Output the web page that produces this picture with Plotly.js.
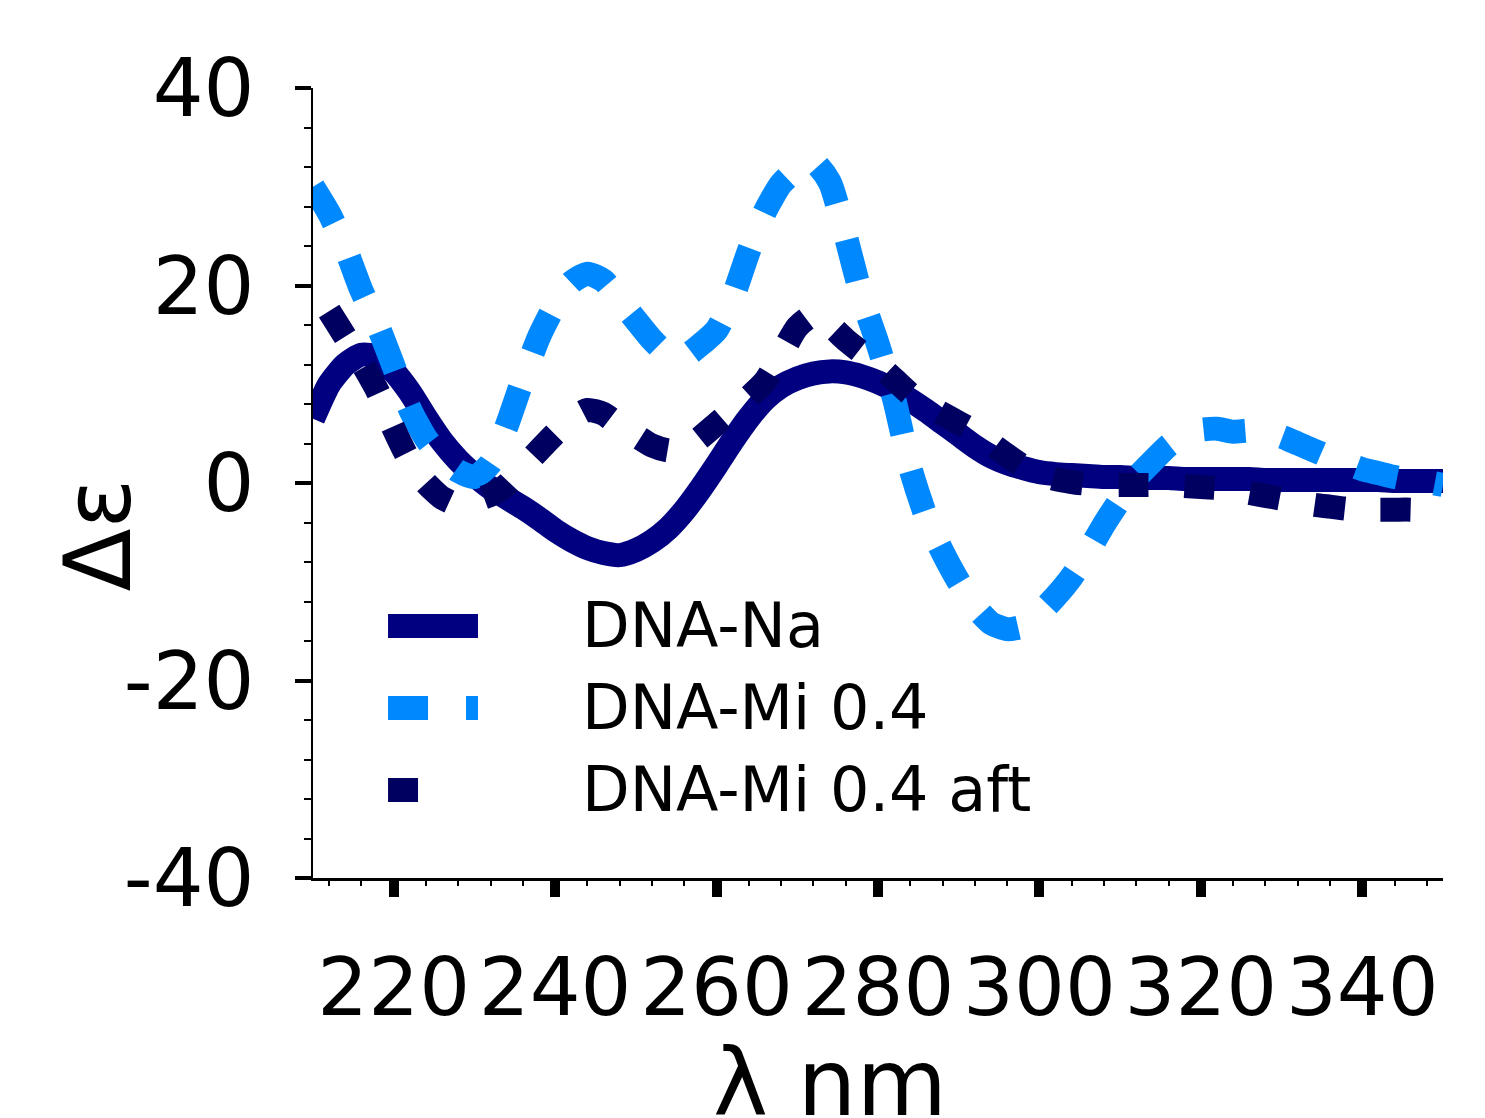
<!DOCTYPE html>
<html>
<head>
<meta charset="utf-8">
<script src="https://cdn.plot.ly/plotly-3.0.1.min.js"></script>
<style>
  html, body { margin: 0; padding: 0; background: #ffffff; }
  #chart { width: 1485px; height: 1118px; }
</style>
</head>
<body>
<div id="chart"></div>
<script>
// Wavelength (nm)
const wavelength = [210,212,214,216,218,220,222,224,226,228,230,232,234,236,238,240,242,244,246,248,
  250,252,254,256,258,260,262,264,266,268,270,272,274,276,278,280,282,284,286,288,
  290,292,294,296,298,300,302,304,306,308,310,312,314,316,318,320,322,324,326,328,
  330,332,334,336,338,340,342,344,346,348,350];

// DNA-Na
const dnaNa = [6.5,10.0,12.0,13.0,12.8,11.3,9.2,6.6,4.2,2.3,0.8,-0.5,-1.5,-2.5,-3.6,-4.8,-5.8,-6.6,-7.1,-7.3,
  -6.8,-5.9,-4.6,-2.8,-0.6,1.8,4.3,6.6,8.5,9.8,10.6,11.1,11.3,11.2,10.8,10.2,9.4,8.4,7.3,6.1,
  4.9,3.7,2.7,2.0,1.5,1.1,0.9,0.8,0.7,0.6,0.6,0.5,0.5,0.5,0.4,0.4,0.4,0.4,0.4,0.3,
  0.3,0.3,0.3,0.3,0.3,0.3,0.3,0.2,0.2,0.2,0.2];

// DNA-Mi 0.4
const dnaMi = [30.0,27.3,23.8,19.5,16.0,11.8,7.5,4.5,2.5,1.2,0.6,2.0,5.8,10.5,14.8,18.0,20.3,21.2,20.5,18.5,
  16.5,14.5,13.0,12.8,14.0,15.5,18.8,23.5,27.5,30.3,31.8,32.5,30.5,25.0,18.8,14.0,8.5,1.5,-3.5,-7.0,
  -10.0,-12.5,-14.2,-14.8,-14.5,-13.2,-11.5,-9.5,-7.0,-4.2,-1.7,0.5,2.2,3.8,4.9,5.4,5.5,5.2,5.3,5.1,
  4.7,4.0,3.3,2.6,2.0,1.4,1.0,0.6,0.3,0.1,-0.2];

// DNA-Mi 0.4 aft
const dnaMiAft = [null,17.4,14.8,12.2,9.3,5.5,2.2,0.0,-1.5,-2.2,-1.8,-1.2,-0.2,1.6,3.3,5.0,6.5,7.4,7.0,5.8,
  4.8,3.8,3.3,3.4,4.6,6.0,7.4,8.7,10.3,13.0,15.8,17.0,16.0,14.5,13.2,12.0,10.5,9.0,7.9,7.0,
  6.1,5.2,4.0,2.8,1.7,0.9,0.4,0.1,-0.1,-0.2,-0.2,-0.2,-0.2,-0.2,-0.3,-0.4,-0.5,-0.7,-1.0,-1.3,
  -1.6,-1.9,-2.2,-2.4,-2.6,-2.7,-2.7,-2.7,-2.7,-2.8,-2.8];

const seriesNames = ['DNA-Na', 'DNA-Mi 0.4', 'DNA-Mi 0.4 aft'];
const xTickVals = [220,240,260,280,300,320,340];
const yTickVals = [-40,-20,0,20,40];

const FONT = 'DejaVu Sans, Arial, sans-serif';

const styles = [
  { color: '#000080', dash: 'solid', legendDash: 'solid' },
  { color: '#0088ff', dash: '42px,38px', legendDash: '40px,38px' },
  { color: '#000060', dash: '30px,36px', legendDash: '30px,70px' }
];
const seriesY = [dnaNa, dnaMi, dnaMiAft];

const traces = seriesY.map((ys, i) => ({
  x: wavelength, y: ys, name: seriesNames[i], mode: 'lines', connectgaps: false,
  showlegend: false,
  line: { color: styles[i].color, width: 24, dash: styles[i].dash, shape: 'spline', smoothing: 0.6 }
}));

// Legend drawn as paper-referenced samples + labels (thick samples like the original)
const legendRowsY = [0.319, 0.2152, 0.1114];
const legendShapes = seriesNames.map((n, i) => ({
  type: 'line', xref: 'paper', yref: 'paper',
  x0: 0.0664, x1: 0.146, y0: legendRowsY[i], y1: legendRowsY[i],
  line: { color: styles[i].color, width: 24, dash: styles[i].legendDash }
}));
const legendLabels = seriesNames.map((n, i) => ({
  text: n, xref: 'paper', yref: 'paper', x: 0.2363, y: legendRowsY[i],
  xanchor: 'left', yanchor: 'middle', showarrow: false,
  font: { family: FONT, size: 62, color: '#000000' }
}));

const layout = {
  width: 1485, height: 1118,
  margin: { l: 313, r: 42, t: 88, b: 240 },
  paper_bgcolor: '#ffffff', plot_bgcolor: '#ffffff',
  font: { family: FONT, color: '#000000' },
  showlegend: false,
  xaxis: {
    range: [210, 350], showgrid: false, zeroline: false,
    showline: true, linecolor: '#000000', linewidth: 2.5,
    ticks: 'outside', ticklen: 16, tickwidth: 10, tickcolor: '#000000',
    tickmode: 'array', tickvals: xTickVals, ticktext: xTickVals.map(String),
    tickfont: { family: FONT, size: 80, color: '#000000' },
    ticklabelstandoff: 22,
    minor: { dtick: 4, tick0: 0, ticks: 'outside', ticklen: 5, tickwidth: 2, tickcolor: '#000000', showgrid: false }
  },
  yaxis: {
    range: [-40, 40], showgrid: false, zeroline: false,
    showline: true, linecolor: '#000000', linewidth: 2.5,
    ticks: 'outside', ticklen: 16, tickwidth: 4, tickcolor: '#000000',
    tickmode: 'array', tickvals: yTickVals, ticktext: yTickVals.map(String),
    tickfont: { family: FONT, size: 80, color: '#000000' },
    ticklabelstandoff: 24,
    minor: { dtick: 4, tick0: 0, ticks: 'outside', ticklen: 7, tickwidth: 2, tickcolor: '#000000', showgrid: false }
  },
  shapes: legendShapes,
  annotations: [
    { text: 'Δε', xref: 'paper', yref: 'paper', x: -0.190, y: 0.434,
      xanchor: 'center', yanchor: 'middle', textangle: -90, showarrow: false,
      font: { family: FONT, size: 92, color: '#000000' } },
    { text: 'λ nm', xref: 'paper', yref: 'paper', x: 0.4575, y: -0.259,
      xanchor: 'center', yanchor: 'middle', showarrow: false,
      font: { family: FONT, size: 93, color: '#000000' } }
  ].concat(legendLabels)
};

Plotly.newPlot('chart', traces, layout, { displayModeBar: false, staticPlot: true });
</script>
</body>
</html>
